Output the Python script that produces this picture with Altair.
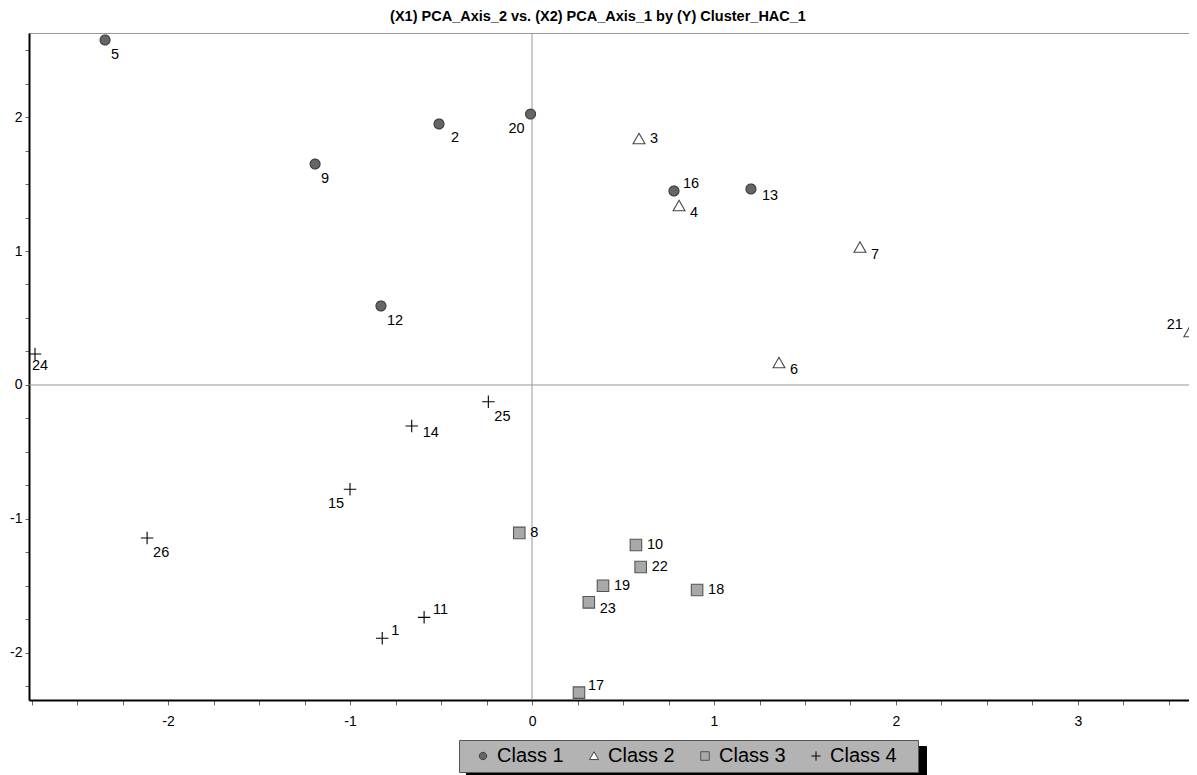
import altair as alt
import pandas as pd

# ---- data ----
point_ids = ["5", "2", "20", "9", "16", "13", "12",
             "3", "4", "7", "6", "21",
             "8", "10", "22", "19", "23", "18", "17",
             "24", "25", "14", "15", "26", "11", "1"]
pca_axis_2 = [-2.346, -0.511, -0.008, -1.192, 0.780, 1.203, -0.830,
              0.588, 0.808, 1.802, 1.357, 3.615,
              -0.070, 0.571, 0.597, 0.390, 0.312, 0.907, 0.258,
              -2.731, -0.240, -0.661, -1.000, -2.115, -0.593, -0.823]
pca_axis_1 = [2.575, 1.948, 2.022, 1.649, 1.448, 1.463, 0.590,
              1.836, 1.336, 1.026, 0.164, 0.396,
              -1.104, -1.194, -1.358, -1.498, -1.622, -1.530, -2.296,
              0.231, -0.125, -0.306, -0.778, -1.142, -1.734, -1.890]
cluster = ["Class 1", "Class 1", "Class 1", "Class 1", "Class 1", "Class 1", "Class 1",
           "Class 2", "Class 2", "Class 2", "Class 2", "Class 2",
           "Class 3", "Class 3", "Class 3", "Class 3", "Class 3", "Class 3", "Class 3",
           "Class 4", "Class 4", "Class 4", "Class 4", "Class 4", "Class 4", "Class 4"]
label_side = ["se", "sef", "sw", "se", "ne", "ese", "se",
              "e", "ese", "ese", "ese", "nw",
              "e", "e", "e", "e", "ese", "e", "ne",
              "s", "se", "ese", "sw", "se", "ne", "ne"]
classes = ["Class 1", "Class 2", "Class 3", "Class 4"]
x_ticks = [-2.75, -2.5, -2.25, -2.0, -1.75, -1.5, -1.25, -1.0, -0.75, -0.5, -0.25,
           0.0, 0.25, 0.5, 0.75, 1.0, 1.25, 1.5, 1.75, 2.0, 2.25, 2.5, 2.75, 3.0,
           3.25, 3.5]
y_ticks = [-2.25, -2.0, -1.75, -1.5, -1.25, -1.0, -0.75, -0.5, -0.25, 0.0,
           0.25, 0.5, 0.75, 1.0, 1.25, 1.5, 1.75, 2.0, 2.25, 2.5]
title_text = "(X1) PCA_Axis_2 vs. (X2) PCA_Axis_1 by (Y) Cluster_HAC_1"

df = pd.DataFrame({
    "id": point_ids,
    "PCA_Axis_2": pca_axis_2,
    "PCA_Axis_1": pca_axis_1,
    "Class": cluster,
    "ClassS": cluster,
    "side": label_side,
})
zero_df = pd.DataFrame({"zero": [0.0]})

FONT = "Liberation Sans"

xs = alt.Scale(domain=[-2.764, 3.610], nice=False, zero=False)
ys = alt.Scale(domain=[-2.351, 2.627], nice=False, zero=False)
int_label = "datum.value % 1 === 0 ? '' + datum.value : ''"
xaxis = alt.Axis(values=x_ticks, labelExpr=int_label, title=None, grid=False,
                 domainColor="black", domainWidth=2, tickColor="#666666",
                 tickSize=5, tickWidth=1, labelFontSize=14, labelFont=FONT,
                 labelColor="black", labelPadding=9, labelOverlap=False,
                 labelFlush=False)
yaxis = alt.Axis(values=y_ticks, labelExpr=int_label, title=None, grid=False,
                 domainColor="black", domainWidth=2, tickColor="#666666",
                 tickSize=4, tickWidth=1, labelFontSize=14, labelFont=FONT,
                 labelColor="black", labelPadding=3, labelOverlap=False,
                 labelFlush=False)

X = alt.X("PCA_Axis_2:Q", scale=xs, axis=xaxis)
Y = alt.Y("PCA_Axis_1:Q", scale=ys, axis=yaxis)

circle_path = "M0.83,0A0.83,0.83,0,1,1,-0.83,0A0.83,0.83,0,1,1,0.83,0Z"
tri_path = "M0,-0.95L1,0.8L-1,0.8Z"
square_path = "M-0.96,-0.96L0.96,-0.96L0.96,0.96L-0.96,0.96Z"
cross_path = "M-1.04,0L1.04,0M0,-1.04L0,1.04"

legend_common = dict(
    title=None, orient="none", direction="horizontal",
    padding=6, symbolSize=80, symbolStrokeWidth=1,
    labelFontSize=20, labelFont=FONT, labelLimit=300, columnPadding=12,
)
blank = "\u2800"
main_legend = alt.Legend(legendX=430, legendY=707, fillColor="#b3b3b3",
                         strokeColor="#555555", labelColor="black", zindex=2,
                         symbolOffset=8, labelOffset=4,
                         labelExpr=f"datum.label == '{classes[-1]}' ? datum.label + '{blank}' : datum.label",
                         **legend_common)
shadow_legend = alt.Legend(legendX=437, legendY=713, fillColor="black",
                           strokeColor="black", labelExpr="''",
                           symbolOpacity=0, zindex=1,
                           symbolOffset=0, labelOffset=83,
                           **legend_common)

shape_scale = alt.Scale(domain=classes, range=[circle_path, tri_path, square_path, cross_path])
fill_scale = alt.Scale(domain=classes, range=["#666666", "#ffffff", "#a9a9a9", "#000000"])
stroke_scale = alt.Scale(domain=classes, range=["#3c3c3c", "#444444", "#555555", "#000000"])
dash_scale = alt.Scale(range=[[1, 0], [1, 0], [1, 0], [1, 0]])

zero_v = alt.Chart(zero_df).mark_rule(color="#999999", strokeWidth=1).encode(
    x=alt.X("zero:Q", scale=xs, axis=xaxis))
zero_h = alt.Chart(zero_df).mark_rule(color="#999999", strokeWidth=1).encode(
    y=alt.Y("zero:Q", scale=ys, axis=yaxis))

points = alt.Chart(df).mark_point(filled=True, size=144, strokeWidth=1.1, opacity=1).encode(
    x=X, y=Y,
    shape=alt.Shape("Class:N", scale=shape_scale, legend=main_legend),
    fill=alt.Fill("Class:N", scale=fill_scale, legend=main_legend),
    stroke=alt.Stroke("Class:N", scale=stroke_scale, legend=main_legend),
    strokeDash=alt.StrokeDash("ClassS:N", scale=dash_scale, legend=shadow_legend),
)

sides = {
    "se": (6, 15, "left"),
    "sef": (12, 14, "left"),
    "ese": (11, 7, "left"),
    "e": (11, 0, "left"),
    "ne": (9, -7, "left"),
    "sw": (-6, 15, "right"),
    "nw": (-7, -7, "right"),
    "s": (-3, 12, "left"),
}
texts = []
for key, (dx, dy, align) in sides.items():
    texts.append(
        alt.Chart(df).transform_filter(alt.datum.side == key)
        .mark_text(dx=dx, dy=dy, align=align, baseline="middle",
                   fontSize=14.5, font=FONT, color="black")
        .encode(x=X, y=Y, text="id:N")
    )

chart = alt.layer(zero_v, zero_h, points, *texts).properties(
    width=1160, height=667,
    padding={"left": 21, "top": 25, "right": 0, "bottom": 75},
    autosize=alt.AutoSizeParams(type="none"),
    title=alt.TitleParams(title_text, fontSize=14.5, font=FONT, fontWeight="bold",
                          color="black", anchor="middle", offset=8, dx=-11),
).configure_view(stroke="#999999", strokeWidth=1)

chart.save("out.html", embed_options={"renderer": "svg", "actions": False})
